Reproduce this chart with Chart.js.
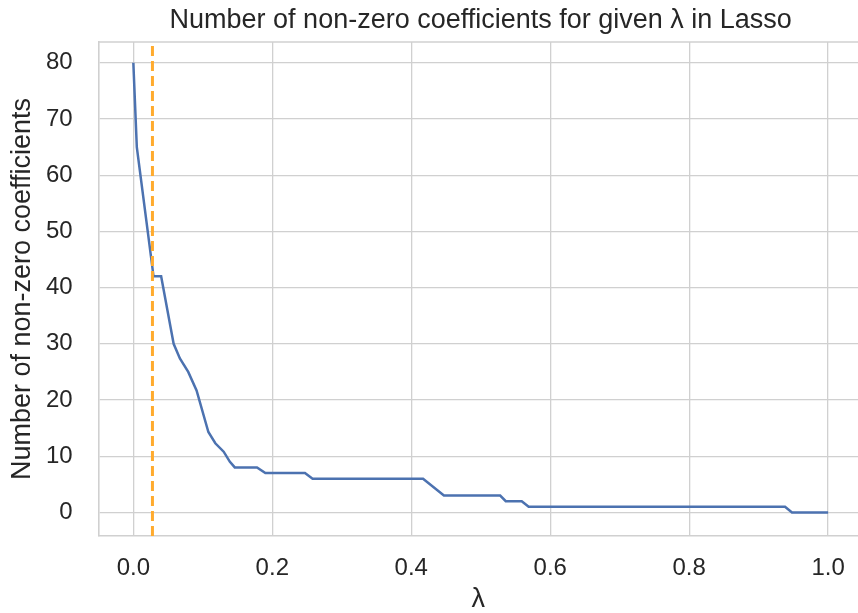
<!DOCTYPE html>
<html>
<head>
<meta charset="utf-8">
<script src="https://cdn.jsdelivr.net/npm/chart.js@4/dist/chart.umd.min.js"></script>
<style>
    html, body { margin: 0; padding: 0; background: #fff; overflow: hidden; }
    #wrap { width: 858px; height: 613px; }
</style>
</head>
<body>
<div id="wrap"><canvas id="lasso" width="858" height="613"></canvas></div>
<script>
// breakpoints of the curve
const lambdas  = [0, 0.005, 0.027, 0.029, 0.040, 0.058, 0.067, 0.079, 0.091, 0.108, 0.118, 0.130, 0.139, 0.146, 0.178, 0.190, 0.247, 0.258, 0.417, 0.447, 0.528, 0.536, 0.559, 0.569, 0.938, 0.948, 1.0];
const nonZero  = [80, 65, 44, 42, 42, 30, 27.4, 25, 21.7, 14.3, 12.3, 10.8, 9, 8, 8, 7, 7, 6, 6, 3, 3, 2, 2, 1, 1, 0, 0];

const bestLambda = 0.0275;
const xTicks = [0, 0.2, 0.4, 0.6, 0.8, 1.0];
const yTicks = [0, 10, 20, 30, 40, 50, 60, 70, 80];
const xRange = [-0.05, 1.043];
const yRange = [-4.2, 83.7];

const titleText = 'Number of non-zero coefficients for given λ in Lasso';
const xLabel = 'λ';
const yLabel = 'Number of non-zero coefficients';

const FONT = '"Liberation Sans", Arial, sans-serif';
const TEXT = '#262626';
const GRID = '#d0d0d0';

const frameAndTitle = {
    id: 'frameAndTitle',
    beforeDatasetsDraw(chart) {
        const { ctx, chartArea } = chart;
        ctx.save();
        ctx.strokeStyle = GRID;
        ctx.lineWidth = 1.6;
        ctx.beginPath();
        ctx.moveTo(chartArea.left, chartArea.top);
        ctx.lineTo(chartArea.right, chartArea.top);
        ctx.stroke();
        ctx.restore();
    },
    afterDraw(chart) {
        const { ctx } = chart;
        ctx.save();
        ctx.font = '27px ' + FONT;
        ctx.fillStyle = TEXT;
        ctx.textAlign = 'center';
        ctx.textBaseline = 'alphabetic';
        ctx.fillText(titleText, chart.scales.x.getPixelForValue(0.5), 28);
        ctx.restore();
    }
};

function draw() {
    const ctx = document.getElementById('lasso').getContext('2d');
    new Chart(ctx, {
        type: 'scatter',
        data: {
            datasets: [
                {
                    data: yRange.map(v => ({ x: bestLambda, y: v })),
                    showLine: true,
                    borderColor: '#ffab2e',
                    borderWidth: 3,
                    borderDash: [10, 5],
                    pointRadius: 0,
                    order: 0,
                },
                {
                    data: lambdas.map((l, i) => ({ x: l, y: nonZero[i] })),
                    showLine: true,
                    borderColor: '#4c72b0',
                    borderWidth: 2.5,
                    pointRadius: 0,
                    tension: 0,
                    order: 1,
                }
            ]
        },
        options: {
            responsive: false,
            animation: false,
            devicePixelRatio: 1,
            layout: { padding: { top: 42, left: 0, right: 0, bottom: 0 } },
            plugins: {
                legend: { display: false },
                tooltip: { enabled: false },
            },
            scales: {
                x: {
                    type: 'linear',
                    min: xRange[0],
                    max: xRange[1],
                    afterBuildTicks: (scale) => { scale.ticks = xTicks.map(v => ({ value: v })); },
                    afterFit: (scale) => {
                        scale.height = 77;
                        scale.paddingLeft = 0;
                        scale.paddingRight = 0;
                    },
                    grid: { color: GRID, lineWidth: 1.3, drawTicks: false },
                    border: { color: GRID, width: 1.6 },
                    ticks: {
                        padding: 18,
                        color: TEXT,
                        font: { family: FONT, size: 24 },
                        callback: (v) => v.toFixed(1),
                    },
                    title: {
                        display: true,
                        text: xLabel,
                        color: TEXT,
                        font: { family: FONT, size: 27, lineHeight: 1 },
                        padding: { top: 0, bottom: 0 },
                    },
                },
                y: {
                    min: yRange[0],
                    max: yRange[1],
                    afterBuildTicks: (scale) => { scale.ticks = yTicks.map(v => ({ value: v })); },
                    afterFit: (scale) => {
                        scale.width = 98.6;
                        scale.paddingTop = 0;
                        scale.paddingBottom = 0;
                    },
                    grid: { color: GRID, lineWidth: 1.3, drawTicks: false },
                    border: { color: GRID, width: 1.6 },
                    ticks: {
                        padding: 26,
                        color: TEXT,
                        font: { family: FONT, size: 24 },
                    },
                    title: {
                        display: true,
                        text: yLabel,
                        color: TEXT,
                        font: { family: FONT, size: 27, lineHeight: 1 },
                        padding: { top: 9.5, bottom: 0 },
                    },
                }
            }
        },
        plugins: [frameAndTitle]
    });
}

document.fonts.load('24px "Liberation Sans"').then(draw, draw);
</script>
</body>
</html>
